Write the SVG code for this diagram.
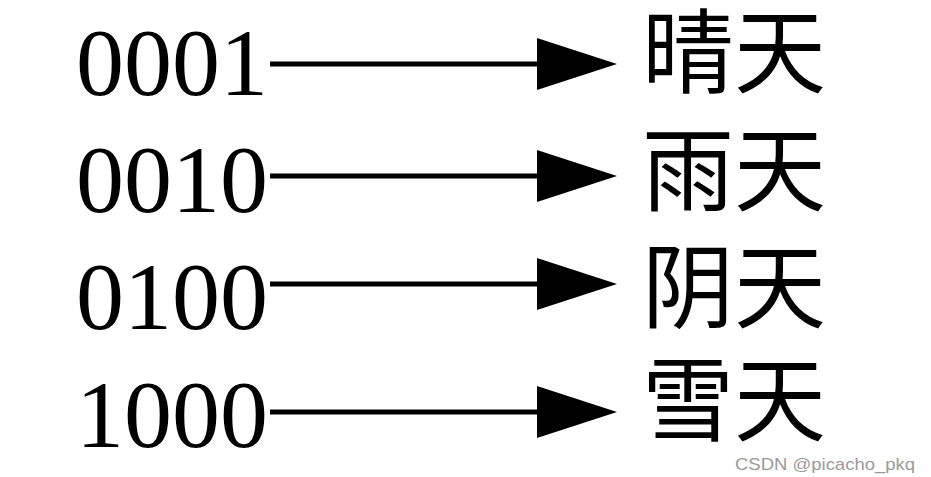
<svg xmlns="http://www.w3.org/2000/svg" width="931" height="477" viewBox="0 0 931 477">
<style>
.code{font-family:"Liberation Serif","Times New Roman",serif;font-size:96px;fill:#000}
.cn{font-family:"Liberation Serif","Noto Sans CJK SC",serif;font-size:92px;fill:#000}
.wm{font-family:"Liberation Sans",Arial,sans-serif;font-size:17px;fill:#9a9a9a}
.ln{stroke:#000;stroke-width:5;fill:none}
.hd{fill:#000}
</style>
<rect width="931" height="477" fill="#fff"/>
<g id="codes">
<text id="c1" class="code" x="76" y="95">0001</text>
<text id="c2" class="code" x="76" y="212">0010</text>
<text id="c3" class="code" x="76" y="329">0100</text>
<text id="c4" class="code" x="76" y="447">1000</text>
</g>
<g id="connectors">
<line class="ln" x1="270" y1="64" x2="545" y2="64"/>
<polygon class="hd" points="537,38 617,64 537,90"/>
<line class="ln" x1="270" y1="176" x2="545" y2="176"/>
<polygon class="hd" points="537,150 617,176 537,202"/>
<line class="ln" x1="270" y1="284" x2="545" y2="284"/>
<polygon class="hd" points="537,258 617,284 537,310"/>
<line class="ln" x1="270" y1="412" x2="545" y2="412"/>
<polygon class="hd" points="537,386 617,412 537,438"/>
</g>
<g id="weather">
<text id="w1" class="cn" x="642" y="86">晴天</text>
<text id="w2" class="cn" x="642" y="204">雨天</text>
<text id="w3" class="cn" x="642" y="321">阴天</text>
<text id="w4" class="cn" x="642" y="434">雪天</text>
</g>
<text class="wm" x="735" y="470" textLength="180" lengthAdjust="spacingAndGlyphs">CSDN @picacho_pkq</text>
</svg>
